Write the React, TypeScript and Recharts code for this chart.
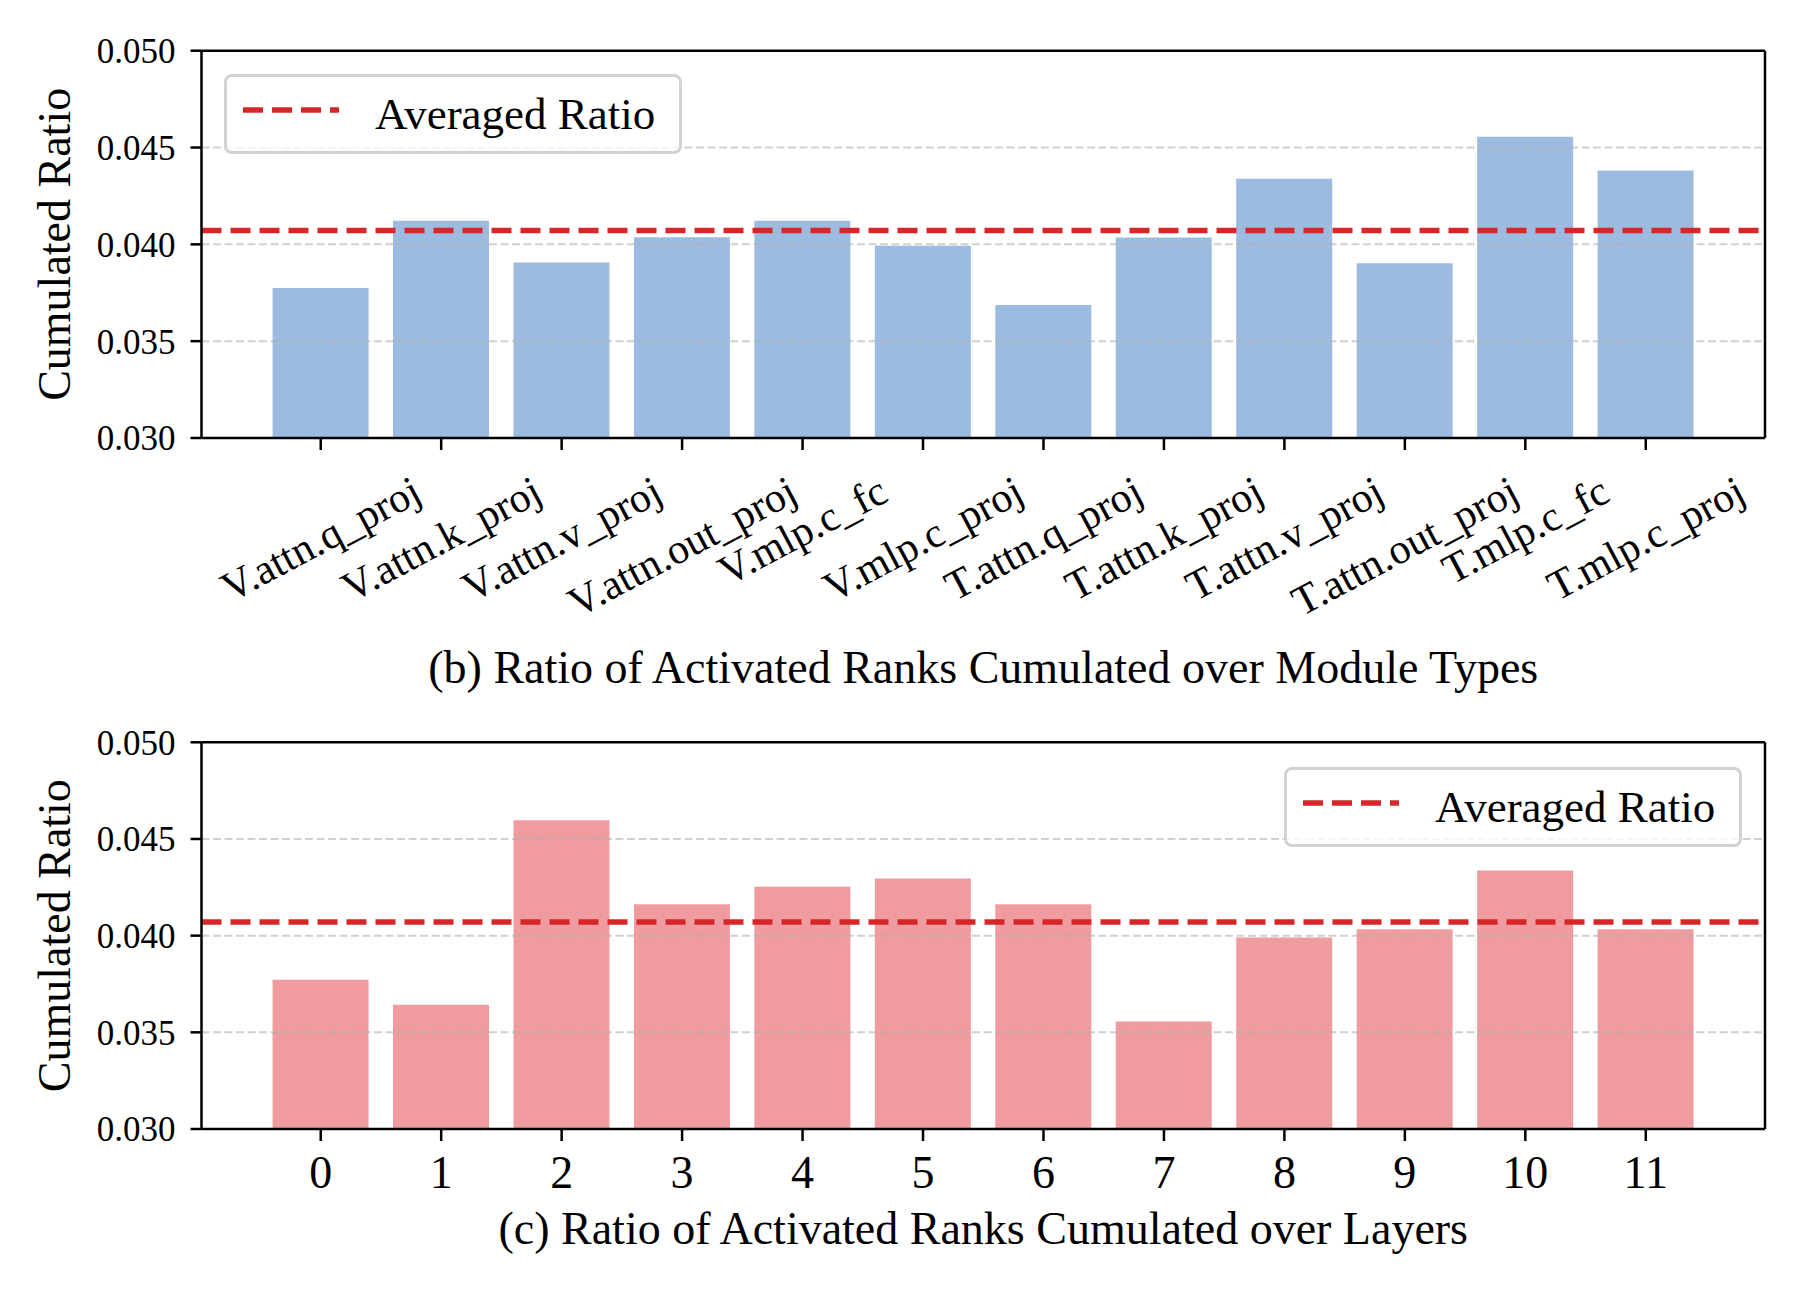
import React from 'react';
import { BarChart, Bar, XAxis, YAxis, ReferenceLine, Legend } from 'recharts';

const moduleNames = [
  'V.attn.q_proj', 'V.attn.k_proj', 'V.attn.v_proj', 'V.attn.out_proj', 'V.mlp.c_fc', 'V.mlp.c_proj',
  'T.attn.q_proj', 'T.attn.k_proj', 'T.attn.v_proj', 'T.attn.out_proj', 'T.mlp.c_fc', 'T.mlp.c_proj',
];
const moduleRatios = [0.03774, 0.04122, 0.03906, 0.04037, 0.04122, 0.03993, 0.03687, 0.04035, 0.04339, 0.03903, 0.04555, 0.04382];

const layerNames = ['0', '1', '2', '3', '4', '5', '6', '7', '8', '9', '10', '11'];
const layerRatios = [0.03772, 0.03642, 0.04597, 0.04163, 0.04253, 0.04296, 0.04163, 0.03556, 0.0399, 0.04033, 0.04337, 0.04033];

const averagedRatio = 0.04071;
const yTicks = [0.03, 0.035, 0.04, 0.045, 0.05];
const gridValues = [0.035, 0.04, 0.045];

const moduleData = moduleNames.map((name, i) => ({ name, value: moduleRatios[i] }));
const layerData = layerNames.map((name, i) => ({ name, value: layerRatios[i] }));

const FONT = "'Liberation Serif', 'Times New Roman', serif";
const RED = '#d62728';
const W = 1808;
const PLOT_LEFT = 201.5;
const PLOT_RIGHT = 1765;
const PAD = 59;

let ctx: CanvasRenderingContext2D | null = null;
function textWidth(s: string, size: number) {
  if (!ctx) ctx = document.createElement('canvas').getContext('2d');
  if (!ctx) return s.length * size * 0.45;
  ctx.font = `${size}px 'Liberation Serif'`;
  return ctx.measureText(s).width;
}

// rotated module tick, centred under the tick like matplotlib ha='center'
function RotatedTick(props: any) {
  const { x, y, payload } = props;
  const size = 42;
  const ang = (28 * Math.PI) / 180;
  const w = textWidth(payload.value, size);
  const h = size * 0.9;
  const vert = w * Math.sin(ang) + h * Math.cos(ang);
  const cy = y + 21 + vert / 2;
  return (
    <text
      x={x}
      y={cy}
      textAnchor="middle"
      dominantBaseline="central"
      transform={`rotate(-28, ${x}, ${cy})`}
      fontFamily={FONT}
      fontSize={size}
      fill="#000"
    >
      {payload.value}
    </text>
  );
}

function LegendBox() {
  return (
    <div
      style={{
        width: 458,
        height: 80,
        boxSizing: 'border-box',
        border: '3px solid #d2d2d2',
        borderRadius: 8,
        background: 'rgba(255,255,255,0.8)',
        position: 'relative',
      }}
    >
      <svg width={96} height={8} style={{ position: 'absolute', left: 16, top: 29 }}>
        <line x1={0} y1={4} x2={96} y2={4} stroke={RED} strokeWidth={5.5} strokeDasharray="20 9" />
      </svg>
      <span
        style={{
          position: 'absolute',
          left: 148,
          top: 11,
          fontFamily: FONT,
          fontSize: 45,
          lineHeight: '52px',
          color: '#000',
          whiteSpace: 'nowrap',
        }}
      >
        Averaged Ratio
      </span>
    </div>
  );
}

type PanelProps = {
  data: { name: string; value: number }[];
  color: string;
  height: number;
  plotTop: number;
  plotBottom: number;
  rotated: boolean;
  caption: string;
  captionY: number;
  legendLeft: number;
  legendTop: number;
};

function Panel({ data, color, height, plotTop, plotBottom, rotated, caption, captionY, legendLeft, legendTop }: PanelProps) {
  const axisStroke = { stroke: '#000', strokeWidth: 2.5 };
  return (
    <BarChart
      width={W}
      height={height}
      data={data}
      barCategoryGap="10%"
      margin={{ top: plotTop - 1, right: W - PLOT_RIGHT - 1, bottom: 0, left: 0 }}
    >
      <XAxis
        dataKey="name"
        height={height - plotBottom}
        padding={{ left: PAD, right: PAD }}
        axisLine={axisStroke}
        tickLine={axisStroke}
        tickSize={12}
        tickMargin={rotated ? 0 : 14}
        interval={0}
        tick={rotated ? <RotatedTick /> : { fontFamily: FONT, fontSize: 46, fill: '#000' }}
      />
      <XAxis xAxisId="top" dataKey="name" orientation="top" height={1} tick={false} tickLine={false} axisLine={axisStroke} />
      <YAxis
        width={PLOT_LEFT}
        domain={[0.03, 0.05]}
        ticks={yTicks}
        allowDataOverflow
        axisLine={axisStroke}
        tickLine={axisStroke}
        tickSize={11}
        tickMargin={15}
        tickFormatter={(v: number) => v.toFixed(3)}
        tick={{ fontFamily: FONT, fontSize: 35, fill: '#000' }}
      />
      <YAxis yAxisId="right" orientation="right" width={1} domain={[0.03, 0.05]} tick={false} tickLine={false} axisLine={axisStroke} />
      <Bar dataKey="value" fill={color} isAnimationActive={false} />
      {/* horizontal grid drawn over the bars, as in the source figure */}
      {gridValues.map((v) => (
        <ReferenceLine key={v} y={v} stroke="#b0b0b0" strokeOpacity={0.6} strokeWidth={2} strokeDasharray="8 3.5" />
      ))}
      <ReferenceLine y={averagedRatio} stroke={RED} strokeWidth={5.5} strokeDasharray="20 9" />
      <Legend
        content={() => <LegendBox />}
        layout="horizontal"
        verticalAlign="middle"
        wrapperStyle={{ left: legendLeft, top: legendTop, width: 458, height: 80 }}
      />
      <text
        x={70}
        y={(plotTop + plotBottom) / 2}
        transform={`rotate(-90, 70, ${(plotTop + plotBottom) / 2})`}
        textAnchor="middle"
        fontFamily={FONT}
        fontSize={46}
        fill="#000"
      >
        Cumulated Ratio
      </text>
      <text x={(PLOT_LEFT + PLOT_RIGHT) / 2} y={captionY} textAnchor="middle" fontFamily={FONT} fontSize={46} fill="#000">
        {caption}
      </text>
    </BarChart>
  );
}

export default function App() {
  return (
    <div style={{ position: 'absolute', left: 0, top: 0, width: W, height: 1291, background: '#fff' }}>
      <div style={{ position: 'absolute', left: 0, top: 0 }}>
        <Panel
          data={moduleData}
          color="#9dbbe1"
          height={700}
          plotTop={50.7}
          plotBottom={438}
          rotated
          caption="(b) Ratio of Activated Ranks Cumulated over Module Types"
          captionY={683}
          legendLeft={224}
          legendTop={74}
        />
      </div>
      <div style={{ position: 'absolute', left: 0, top: 700 }}>
        <Panel
          data={layerData}
          color="#f09ba0"
          height={591}
          plotTop={42.3}
          plotBottom={429}
          rotated={false}
          caption="(c) Ratio of Activated Ranks Cumulated over Layers"
          captionY={544}
          legendLeft={1284}
          legendTop={66.5}
        />
      </div>
    </div>
  );
}
